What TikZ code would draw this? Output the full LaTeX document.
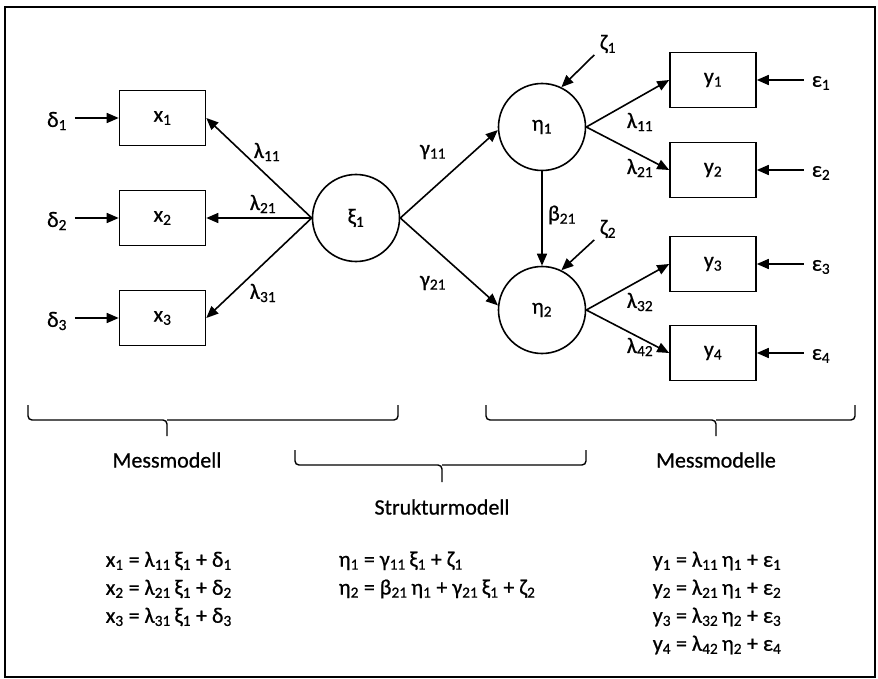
\documentclass[tikz,border=0pt]{standalone}
\usepackage{fontspec}
\setmainfont{Carlito}[FakeBold=0.7]
\usetikzlibrary{arrows.meta}
\newcommand\sbs[1]{\textsubscript{#1}}
\begin{document}
\begin{tikzpicture}[x=1pt,y=-1pt, line width=1.6pt,
  every node/.style={font=\fontsize{22}{28}\selectfont},
  obs/.style={draw, minimum width=86pt, minimum height=55pt, inner sep=0pt},
  lat/.style={draw, circle, minimum size=87pt, inner sep=0pt},
  lbl/.style={inner sep=0pt},
  err/.style={inner sep=0pt, outer sep=8pt},
  arr/.style={-{Triangle[length=12pt,width=10pt]}},
  eqblock/.style={align=left, anchor=west, inner sep=0pt},
  brc/.style={line width=1.4pt, rounded corners=4pt}
]
\useasboundingbox (0,0) rectangle (878,679);
\draw (5,7) rectangle (875,677);

% observed x
\node[obs] (x1) at (162.5,118) {x\sbs{1}};
\node[obs] (x2) at (162.5,218) {x\sbs{2}};
\node[obs] (x3) at (162.5,318) {x\sbs{3}};
% observed y
\node[obs] (y1) at (713,80) {y\sbs{1}};
\node[obs] (y2) at (713,170) {y\sbs{2}};
\node[obs] (y3) at (713,264) {y\sbs{3}};
\node[obs] (y4) at (713,353) {y\sbs{4}};
% latent
\node[lat] (xi) at (356,218) {ξ\sbs{1}};
\node[lat] (eta1) at (542,127) {η\sbs{1}};
\node[lat] (eta2) at (542,310) {η\sbs{2}};

% errors
\node[err] (d1) at (57,121) {δ\sbs{1}};
\node[err] (d2) at (57,221) {δ\sbs{2}};
\node[err] (d3) at (57,321) {δ\sbs{3}};
\node[err] (e1) at (821,83) {ε\sbs{1}};
\node[err] (e2) at (821,173) {ε\sbs{2}};
\node[err] (e3) at (821,267) {ε\sbs{3}};
\node[err] (e4) at (821,356) {ε\sbs{4}};
\node[lbl] (z1) at (608,44) {ζ\sbs{1}};
\node[lbl] (z2) at (608,229) {ζ\sbs{2}};

\draw[arr] (d1.east |- x1) -- (x1.west);
\draw[arr] (d2.east |- x2) -- (x2.west);
\draw[arr] (d3.east |- x3) -- (x3.west);
\draw[arr] (e1.west |- y1) -- (y1.east);
\draw[arr] (e2.west |- y2) -- (y2.east);
\draw[arr] (e3.west |- y3) -- (y3.east);
\draw[arr] (e4.west |- y4) -- (y4.east);
\draw[arr] ([xshift=-5pt,yshift=-1pt]z1.south west) -- (eta1.64);
\draw[arr] ([xshift=-5pt,yshift=-1pt]z2.south west) -- (eta2.64);

% loadings
\draw[arr] (xi.west) -- (x1.east);
\draw[arr] (xi.west) -- (x2.east);
\draw[arr] (xi.west) -- (x3.east);
\draw[arr] (xi.east) -- (eta1.184);
\draw[arr] (xi.east) -- (eta2.174);
\draw[arr] (eta1.south) -- (eta2.north);
\draw[arr] (eta1.east) -- (y1.west);
\draw[arr] (eta1.east) -- (y2.west);
\draw[arr] (eta2.east) -- (y3.west);
\draw[arr] (eta2.east) -- (y4.west);

% path labels
\node[lbl] (l11) at (267,152) {λ\sbs{11}};
\node[lbl] (l21) at (263,204) {λ\sbs{21}};
\node[lbl] (l31) at (263,293) {λ\sbs{31}};
\node[lbl] (g11) at (433,152) {γ\sbs{11}};
\node[lbl] (g21) at (433,283) {γ\sbs{21}};
\node[lbl] (b21) at (562,215) {β\sbs{21}};
\node[lbl] (ly11) at (640,122) {λ\sbs{11}};
\node[lbl] (ly21) at (640,168) {λ\sbs{21}};
\node[lbl] (ly32) at (640,302) {λ\sbs{32}};
\node[lbl] (ly42) at (640,347) {λ\sbs{42}};

% braces
\draw[brc] (28,405) |- (167,420) -- (167,436);
\draw[brc] (398,405) |- (167,420);
\draw[brc] (486,405) |- (716,420) -- (716,436);
\draw[brc] (855,405) |- (716,420);
\draw[brc] (295,450) |- (442,465) -- (442,482);
\draw[brc] (586,450) |- (442,465);

\node[lbl] (mm1) at (167,460) {Messmodell};
\node[lbl] (mm2) at (716,460) {Messmodelle};
\node[lbl] (sm) at (442,507) {Strukturmodell};

% equations
\node[eqblock] (eqL) at (105,589) {x\sbs{1} = λ\sbs{11}\,ξ\sbs{1} + δ\sbs{1}\\x\sbs{2} = λ\sbs{21}\,ξ\sbs{1} + δ\sbs{2}\\x\sbs{3} = λ\sbs{31}\,ξ\sbs{1} + δ\sbs{3}};
\node[eqblock] (eqM) at (338,575) {η\sbs{1} = γ\sbs{11}\,ξ\sbs{1} + ζ\sbs{1}\\η\sbs{2} = β\sbs{21}\,η\sbs{1} + γ\sbs{21}\,ξ\sbs{1} + ζ\sbs{2}};
\node[eqblock] (eqR) at (652,603) {y\sbs{1} = λ\sbs{11}\,η\sbs{1} + ε\sbs{1}\\y\sbs{2} = λ\sbs{21}\,η\sbs{1} + ε\sbs{2}\\y\sbs{3} = λ\sbs{32}\,η\sbs{2} + ε\sbs{3}\\y\sbs{4} = λ\sbs{42}\,η\sbs{2} + ε\sbs{4}};
\end{tikzpicture}
\end{document}
